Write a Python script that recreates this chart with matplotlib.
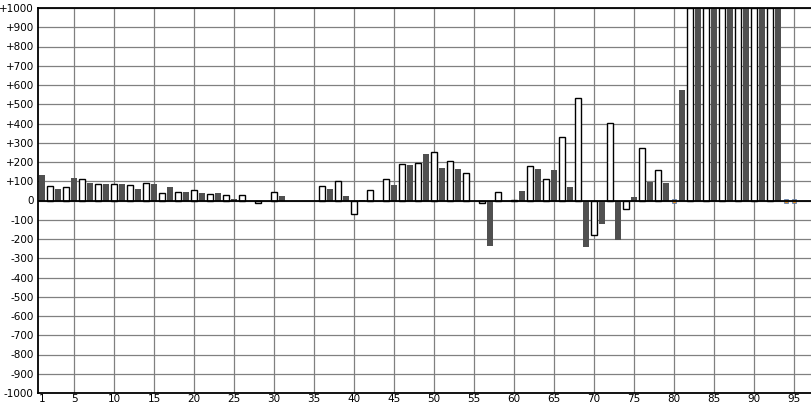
import matplotlib
matplotlib.use('Agg')
import matplotlib.pyplot as plt
import numpy as np

# odd positions: dark bars
dark_x = [1, 3, 5, 7, 9, 11, 13, 15, 17, 19, 21, 23, 25, 31, 37, 39, 41, 43, 45,
          47, 49, 51, 53, 57, 61, 63, 65, 67, 69, 71, 73, 75, 77, 79, 81,
          83, 85, 87, 89, 91, 93]
dark_val = [132, 59, 116, 92, 85, 85, 59, 87, 69, 43, 40, 40, 7, 21, 62, 21, 5, -9, 83,
            187, 239, 171, 166, -234, 47, 162, 158, 69, -241, -121, -204, 17, 97, 91, 573,
            1000, 1000, 1000, 1000, 1000, 1000]

# even positions: white bars
light_x = [2, 4, 6, 8, 10, 12, 14, 16, 18, 20, 22, 24, 26, 28, 30, 36, 38, 40, 42,
           44, 46, 48, 50, 52, 54, 56, 58, 60, 62, 64, 66, 68, 70, 72, 74, 76, 78,
           82, 84, 86, 88, 90, 92]
light_val = [73, 68, 114, 85, 85, 80, 90, 38, 43, 52, 33, 28, 26, -15, 46, 76, 102, -69, 55,
             113, 190, 196, 253, 206, 144, -12, 45, 4, 181, 114, 332, 530, -177, 405, -42, 275, 161,
             1000, 1000, 1000, 1000, 1000, 1000]

# zero-valued points shown as tiny dots
zero_x = [80, 94, 95]

xticks = [1, 5, 10, 15, 20, 25, 30, 35, 40, 45, 50, 55, 60, 65, 70, 75, 80, 85, 90, 95]
yticks = list(range(-1000, 1001, 100))
ylabels = ['%+d' % v if v != 0 else '0' for v in yticks]

fig = plt.figure(figsize=(8.11, 4.05), dpi=100)
ax = fig.add_axes([38/811., 12/405., 773/811., 385/405.])

ax.set_axisbelow(True)
ax.set_xlim(0.5, 97.1)
ax.set_ylim(-1000, 1000)

ax.bar(dark_x, dark_val, width=0.72, color='#505050', lw=0)
ax.bar(light_x, light_val, width=0.72, color='white', edgecolor='black', lw=1)
ax.plot(zero_x, [0]*len(zero_x), 's', ms=2.5, color='#d88a2a', mec='#4a78b8', mew=0.5)
ax.axhline(0, color='black', lw=1.3)

# ticks as plain labels, grid on every 5 (not at 1)
ax.set_xticks(xticks)
ax.set_xticklabels([str(t) for t in xticks])
ax.set_yticks(yticks)
ax.set_yticklabels(ylabels)
ax.tick_params(length=0, labelsize=7.5, pad=3)
ax.tick_params(axis='x', pad=1)
ax.grid(True, color='#808080', lw=0.9)
for t in ax.get_xgridlines():
    if abs(t.get_xdata()[0] - 1) < 0.01:
        t.set_visible(False)

for s in ['left', 'top', 'bottom']:
    ax.spines[s].set_color('black')
    ax.spines[s].set_linewidth(1.3)
ax.spines['right'].set_visible(False)

plt.savefig('out.png', dpi=100)
